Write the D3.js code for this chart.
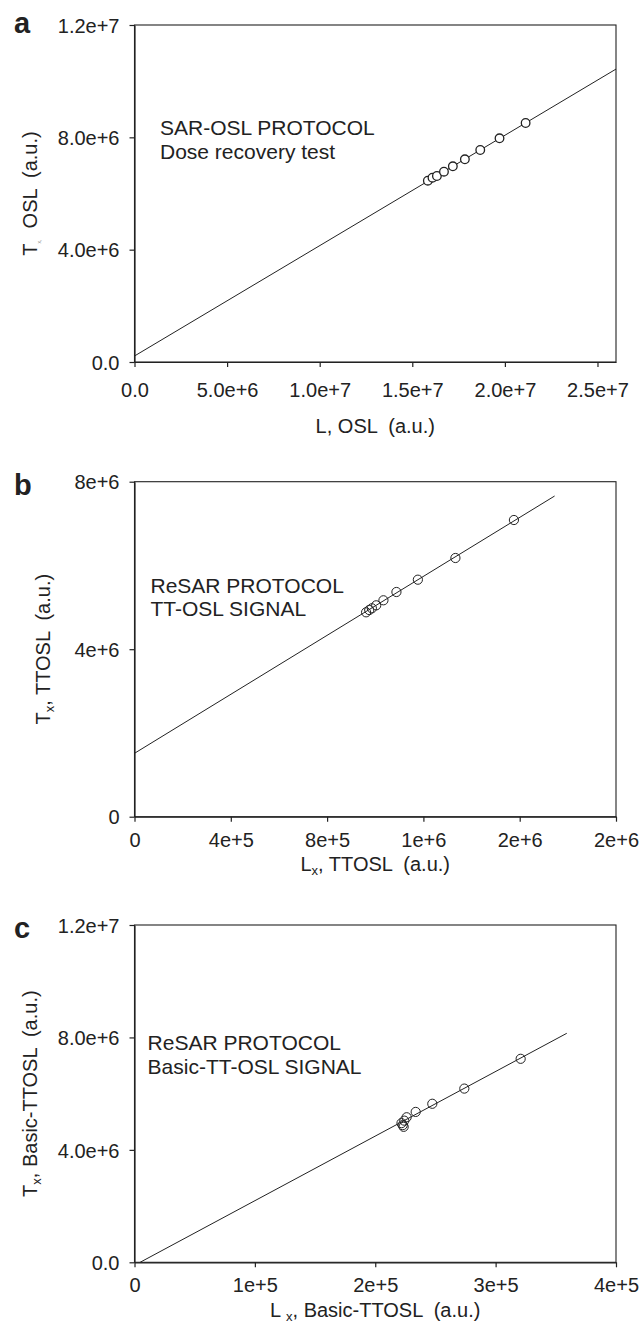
<!DOCTYPE html>
<html><head><meta charset="utf-8">
<script src="https://cdn.jsdelivr.net/npm/d3@7"></script>
<style>
html,body{margin:0;padding:0;background:#fff;}
svg text{font-family:"Liberation Sans",Arial,Helvetica,sans-serif;fill:#222;white-space:pre;}
</style></head><body>
<svg id="chart" width="643" height="1329"></svg>
<script>
// ---------- Panel a : SAR-OSL, dose recovery ----------
const aLx = [1.584e7, 1.609e7, 1.633e7, 1.671e7, 1.719e7, 1.784e7, 1.867e7, 1.971e7, 2.112e7];
const aTx = [6.456e6, 6.563e6, 6.623e6, 6.776e6, 6.968e6, 7.218e6, 7.549e6, 7.966e6, 8.510e6];
const aFitX = [0, 2.6e7];
const aFitY = [2.14e5, 1.043e7];
const aXTicks = [0, 5e6, 1e7, 1.5e7, 2e7, 2.5e7];
const aXTickLabels = ["0.0", "5.0e+6", "1.0e+7", "1.5e+7", "2.0e+7", "2.5e+7"];
const aYTicks = [0, 4e6, 8e6, 1.2e7];
const aYTickLabels = ["0.0", "4.0e+6", "8.0e+6", "1.2e+7"];
const aXDomain = [0, 2.6e7];
const aYDomain = [0, 1.2e7];
const aNote = ["SAR-OSL PROTOCOL", "Dose recovery test"];

// ---------- Panel b : ReSAR, TT-OSL ----------
const bLx = [9.62e5, 9.75e5, 9.86e5, 1.004e6, 1.034e6, 1.088e6, 1.177e6, 1.333e6, 1.576e6];
const bTx = [4.881e6, 4.936e6, 4.977e6, 5.048e6, 5.168e6, 5.366e6, 5.660e6, 6.178e6, 7.085e6];
const bFitX = [0, 1.745e6];
const bFitY = [1.514e6, 7.658e6];
const bXTicks = [0, 4e5, 8e5, 1.2e6, 1.6e6, 2e6];
const bXTickLabels = ["0", "4e+5", "8e+5", "1e+6", "2e+6", "2e+6"];
const bYTicks = [0, 4e6, 8e6];
const bYTickLabels = ["0", "4e+6", "8e+6"];
const bXDomain = [0, 2e6];
const bYDomain = [0, 8e6];
const bNote = ["ReSAR PROTOCOL", "TT-OSL SIGNAL"];

// ---------- Panel c : ReSAR, Basic-TT-OSL ----------
const cLx = [2.218e5, 2.228e5, 2.236e5, 2.241e5, 2.261e5, 2.336e5, 2.474e5, 2.740e5, 3.208e5];
const cTx = [4.95e6, 4.88e6, 4.82e6, 5.04e6, 5.16e6, 5.35e6, 5.64e6, 6.18e6, 7.24e6];
const cFitX = [4.65e3, 3.591e5];
const cFitY = [0, 8.147e6];
const cXTicks = [0, 1e5, 2e5, 3e5, 4e5];
const cXTickLabels = ["0", "1e+5", "2e+5", "3e+5", "4e+5"];
const cYTicks = [0, 4e6, 8e6, 1.2e7];
const cYTickLabels = ["0.0", "4.0e+6", "8.0e+6", "1.2e+7"];
const cXDomain = [0, 4e5];
const cYDomain = [0, 1.2e7];
const cNote = ["ReSAR PROTOCOL", "Basic-TT-OSL SIGNAL"];

const svg = d3.select("#chart");
const left = 134.5, right = 616;

function panel(o) {
  const g = svg.append("g");
  const x = d3.scaleLinear().domain(o.xDomain).range([left, right]);
  const y = d3.scaleLinear().domain(o.yDomain).range([o.bottom, o.top]);

  // frame
  g.append("rect").attr("x", left).attr("y", o.top)
    .attr("width", right - left).attr("height", o.bottom - o.top)
    .attr("fill", "none").attr("stroke", "#222").attr("stroke-width", 1.1);

  const xa = d3.axisBottom(x).tickValues(o.xTicks)
    .tickFormat((d, i) => o.xTickLabels[i]).tickSizeInner(5).tickSizeOuter(0).tickPadding(o.xPad);
  const ya = d3.axisLeft(y).tickValues(o.yTicks)
    .tickFormat((d, i) => o.yTickLabels[i]).tickSizeInner(5).tickSizeOuter(0).tickPadding(10);

  const gx = g.append("g").attr("transform", `translate(0,${o.bottom})`).call(xa);
  const gy = g.append("g").attr("transform", `translate(${left},0)`).call(ya);
  [gx, gy].forEach(a => {
    a.selectAll("path,line").attr("stroke", "#222").attr("stroke-width", 1.2);
    a.selectAll("text").attr("font-size", 20).attr("fill", "#222");
  });
  gy.selectAll("text").attr("dy", "0.36em");

  // fit line
  const fit = o.fitX.map((v, i) => [v, o.fitY[i]]);
  g.append("path").datum(fit)
    .attr("d", d3.line().x(d => x(d[0])).y(d => y(d[1])))
    .attr("fill", "none").attr("stroke", "#222").attr("stroke-width", 1);

  // points
  g.selectAll("circle.pt").data(o.xs.map((v, i) => [v, o.ys[i]])).join("circle")
    .attr("class", "pt")
    .attr("cx", d => x(d[0])).attr("cy", d => y(d[1])).attr("r", o.r)
    .attr("fill", o.fill).attr("stroke", "#222").attr("stroke-width", o.sw);

  // panel letter
  g.append("text").attr("x", 14).attr("y", o.letterY).attr("font-size", 29)
    .attr("font-weight", "bold").text(o.letter);

  // note
  o.note.forEach((t, i) => {
    g.append("text").attr("x", o.noteX).attr("y", o.noteY + i * 23.5)
      .attr("font-size", 21).text(t);
  });

  // x title
  const xt = g.append("text").attr("x", (left + right) / 2).attr("y", o.xTitleY)
    .attr("text-anchor", "middle").attr("font-size", 20);
  o.xTitle(xt);

  // y title
  const yt = g.append("text")
    .attr("transform", `translate(${o.yTitleX},${(o.top + o.bottom) / 2}) rotate(-90)`)
    .attr("text-anchor", "middle").attr("font-size", 20);
  o.yTitle(yt);
}

function sub(t, main, s, rest) {
  t.append("tspan").text(main);
  t.append("tspan").attr("font-size", 13).attr("dy", 4).text(s);
  t.append("tspan").attr("dy", -4).text(rest);
}

panel({
  letter: "a", letterY: 33, top: 25, bottom: 362,
  xs: aLx, ys: aTx, fitX: aFitX, fitY: aFitY,
  xTicks: aXTicks, xTickLabels: aXTickLabels, yTicks: aYTicks, yTickLabels: aYTickLabels,
  xDomain: aXDomain, yDomain: aYDomain, xPad: 16,
  r: 4.3, fill: "#fff", sw: 1.3,
  note: aNote, noteX: 160, noteY: 135,
  xTitleY: 433,
  xTitle: t => t.text("L, OSL  (a.u.)"),
  yTitleX: 37,
  yTitle: t => {
    t.append("tspan").text("T");
    t.append("tspan").attr("font-size", 5).attr("fill", "#888").attr("dy", 4).text("x,");
    t.append("tspan").attr("dy", -4).text("  OSL  (a.u.)");
  }
});

panel({
  letter: "b", letterY: 495, top: 481.7, bottom: 816.7,
  xs: bLx, ys: bTx, fitX: bFitX, fitY: bFitY,
  xTicks: bXTicks, xTickLabels: bXTickLabels, yTicks: bYTicks, yTickLabels: bYTickLabels,
  xDomain: bXDomain, yDomain: bYDomain, xPad: 11,
  r: 4.6, fill: "none", sw: 1,
  note: bNote, noteX: 150.5, noteY: 592.7,
  xTitleY: 871,
  xTitle: t => sub(t, "L", "x", ", TTOSL  (a.u.)"),
  yTitleX: 50,
  yTitle: t => sub(t, "T", "x", ", TTOSL  (a.u.)")
});

panel({
  letter: "c", letterY: 938, top: 925, bottom: 1262.3,
  xs: cLx, ys: cTx, fitX: cFitX, fitY: cFitY,
  xTicks: cXTicks, xTickLabels: cXTickLabels, yTicks: cYTicks, yTickLabels: cYTickLabels,
  xDomain: cXDomain, yDomain: cYDomain, xPad: 11,
  r: 4.6, fill: "none", sw: 1,
  note: cNote, noteX: 147.6, noteY: 1050,
  xTitleY: 1317,
  xTitle: t => sub(t, "L ", "x", ", Basic-TTOSL  (a.u.)"),
  yTitleX: 37,
  yTitle: t => sub(t, "T", "x", ", Basic-TTOSL  (a.u.)")
});
</script>
</body></html>
